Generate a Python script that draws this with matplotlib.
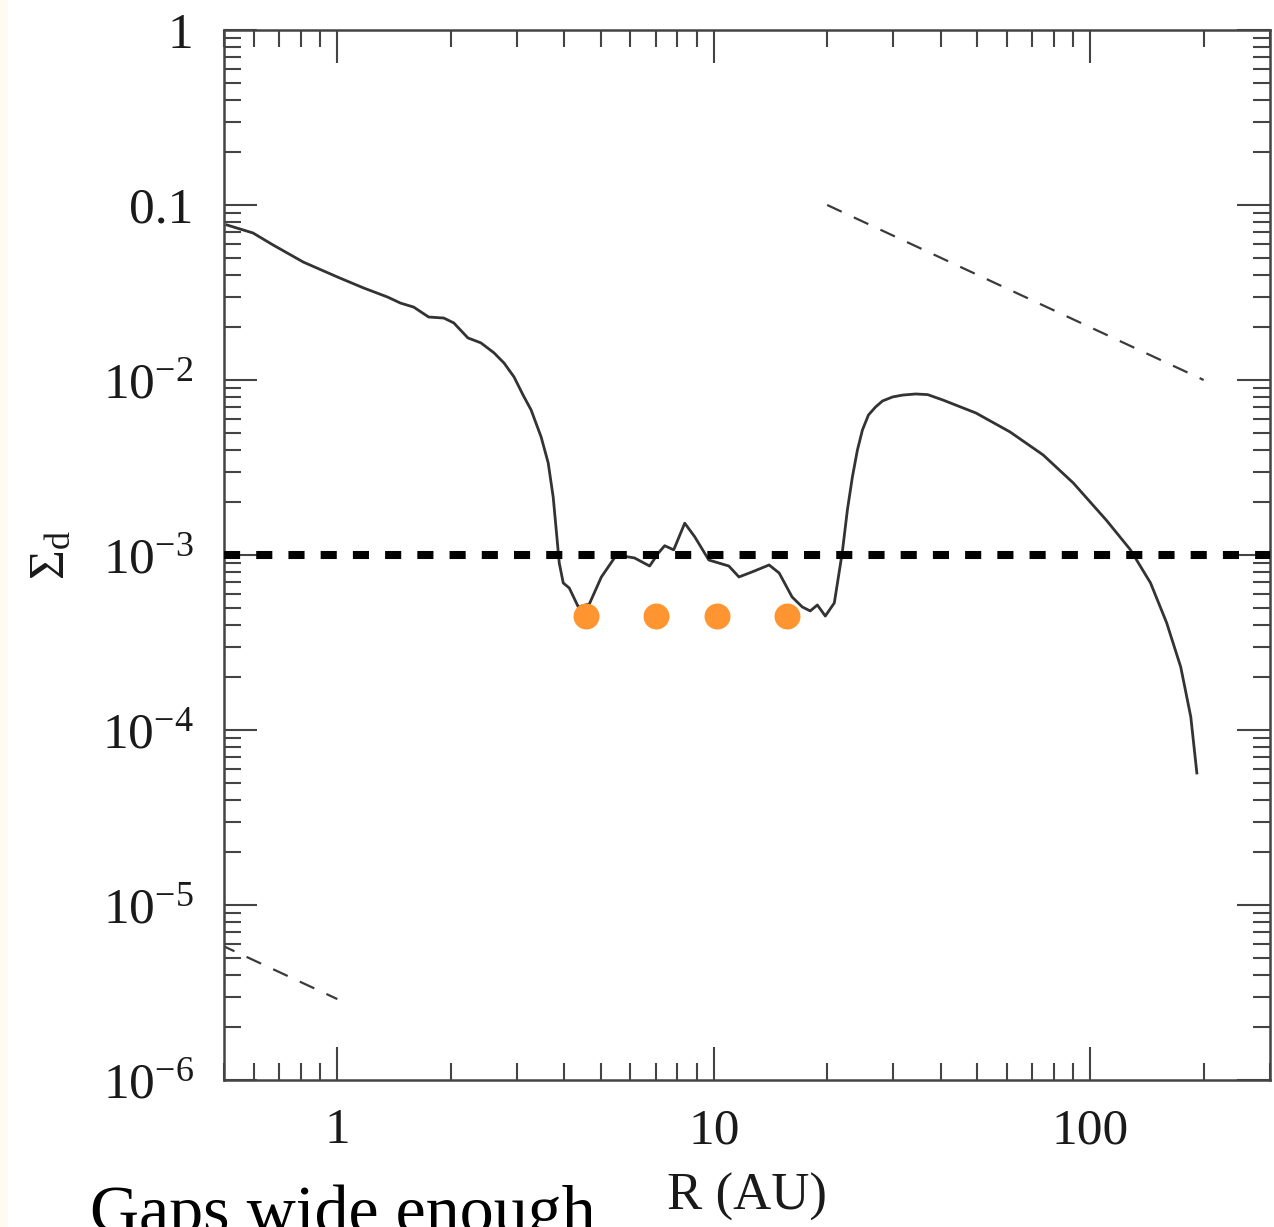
import matplotlib
matplotlib.use("Agg")
import matplotlib.pyplot as plt
from matplotlib.patches import Rectangle

plt.rcParams['font.family'] = ['Liberation Serif', 'DejaVu Serif']
plt.rcParams['mathtext.fontset'] = 'custom'
plt.rcParams['mathtext.rm'] = 'Liberation Serif'
plt.rcParams['mathtext.it'] = 'Liberation Serif:italic'
plt.rcParams['mathtext.bf'] = 'Liberation Serif:bold'

# ---- data ----
R_curve = [0.509, 0.597, 0.675, 0.812, 1.0, 1.173, 1.359, 1.472, 1.595, 1.748,
           1.917, 2.038, 2.222, 2.406, 2.606, 2.772, 2.947, 3.114, 3.271, 3.478,
           3.631, 3.744, 3.814, 3.885, 3.981, 4.130, 4.365, 4.670, 5.027, 5.512,
           6.156, 6.751, 7.135, 7.403, 7.823, 8.369, 8.898, 9.697, 10.96, 11.66,
           12.63, 14.02, 14.91, 16.14, 17.17, 18.03, 18.83, 19.77, 20.89, 21.94,
           22.63, 23.33, 24.06, 24.81, 25.74, 26.88, 28.05, 29.83, 31.72, 34.36,
           36.98, 40.55, 49.66, 61.18, 74.92, 90.08, 110.3, 127.8, 144.5, 159.5,
           173.8, 184.8, 191.8]
Sigma_curve = [0.0769, 0.0692, 0.0591, 0.0472, 0.0388, 0.0336, 0.0298, 0.0275, 0.0261, 0.0229,
               0.0226, 0.0212, 0.0174, 0.0163, 0.0143, 0.0125, 0.0104, 0.0082, 0.00674, 0.00472,
               0.00336, 0.00214, 0.00139, 0.000900, 0.000692, 0.000648, 0.000505, 0.000525, 0.000749, 0.001,
               0.000962, 0.000865, 0.00103, 0.00113, 0.00107, 0.00152, 0.00127, 0.000936, 0.000865, 0.000749,
               0.000800, 0.000877, 0.000789, 0.000575, 0.000505, 0.000479, 0.000518, 0.000448, 0.000532, 0.00104,
               0.00181, 0.00279, 0.00398, 0.00518, 0.00631, 0.00701, 0.00759, 0.00800, 0.00820, 0.00832,
               0.00825, 0.00769, 0.00648, 0.00505, 0.00373, 0.00258, 0.00158, 0.00107, 0.000692, 0.000409,
               0.000229, 0.000119, 5.68e-5]

R_slope_outer = [20.0, 200.0]
Sigma_slope_outer = [0.1, 0.01]
R_slope_inner = [0.5, 1.0]
Sigma_slope_inner = [5.8e-6, 2.9e-6]

R_threshold = [0.5, 300.0]
Sigma_threshold = [1e-3, 1e-3]

R_planets = [4.58, 7.02, 10.2, 15.6]
Sigma_planets = [4.48e-4, 4.48e-4, 4.48e-4, 4.48e-4]

x_ticks = [1, 10, 100]
x_ticklabels = ['1', '10', '100']
y_ticks = [1e-6, 1e-5, 1e-4, 1e-3, 1e-2, 0.1, 1]
y_ticklabels = [r'$10^{-6}$', r'$10^{-5}$', r'$10^{-4}$', r'$10^{-3}$', r'$10^{-2}$', '0.1', '1']

W, H = 1274, 1227
fig = plt.figure(figsize=(W / 100, H / 100), dpi=100)
fig.patch.set_facecolor('white')
fig.patches.append(Rectangle((0, 0), 8 / W, 1, transform=fig.transFigure,
                             facecolor='#fffbf0', edgecolor='none', zorder=0))

ax = fig.add_axes([224 / W, (H - 1080) / H, (1270 - 224) / W, (1080 - 30) / H])
ax.set_xscale('log')
ax.set_yscale('log')
ax.set_xlim(0.5, 300)
ax.set_ylim(1e-6, 1)

line_col = '#333333'
ax.plot(R_curve, Sigma_curve, color=line_col, lw=2.0, solid_joinstyle='round')
ax.plot(R_slope_outer, Sigma_slope_outer, color='#3a3a3a', lw=1.6, linestyle=(0, (7.2, 6.0)))
ax.plot(R_slope_inner, Sigma_slope_inner, color='#3a3a3a', lw=1.6, linestyle=(2, (7.2, 6.0)))
ax.plot(R_threshold, Sigma_threshold, color='black', lw=5.8, linestyle=(0, (2, 2)),
        dash_capstyle='butt', clip_on=False, zorder=3)
ax.plot(R_planets, Sigma_planets, linestyle='none', marker='o', markersize=18.7,
        markerfacecolor='#ff9530', markeredgecolor='none', zorder=4)

for s in ax.spines.values():
    s.set_color('#444444')
    s.set_linewidth(1.8)

ax.tick_params(which='both', direction='in', top=True, right=True, color='#444444',
               width=1.5, labelcolor='#1a1a1a', labelsize=37)
ax.tick_params(which='major', length=24)
ax.tick_params(which='minor', length=12)
ax.tick_params(axis='y', which='major', pad=22)
ax.tick_params(axis='x', which='major', pad=20)

ax.set_xticks(x_ticks)
ax.set_xticklabels(x_ticklabels)
ax.set_yticks(y_ticks)
ax.set_yticklabels(y_ticklabels)
ax.xaxis.set_minor_formatter(matplotlib.ticker.NullFormatter())
ax.yaxis.set_minor_formatter(matplotlib.ticker.NullFormatter())

ax.set_xlabel('R (AU)', fontsize=38, color='#1a1a1a')
ax.xaxis.set_label_coords(0.5, -0.088)
ax.xaxis.label.set_va('top')
ax.set_ylabel(r'$\Sigma_{\rm d}$', fontsize=37, color='#1a1a1a')
ax.yaxis.set_label_coords(-0.142, 0.5)

fig.text(90 / W, -5 / H, 'Gaps wide enough', fontsize=49, color='black',
         family='Liberation Serif', ha='left', va='baseline')

fig.savefig('out.png', dpi=100)
